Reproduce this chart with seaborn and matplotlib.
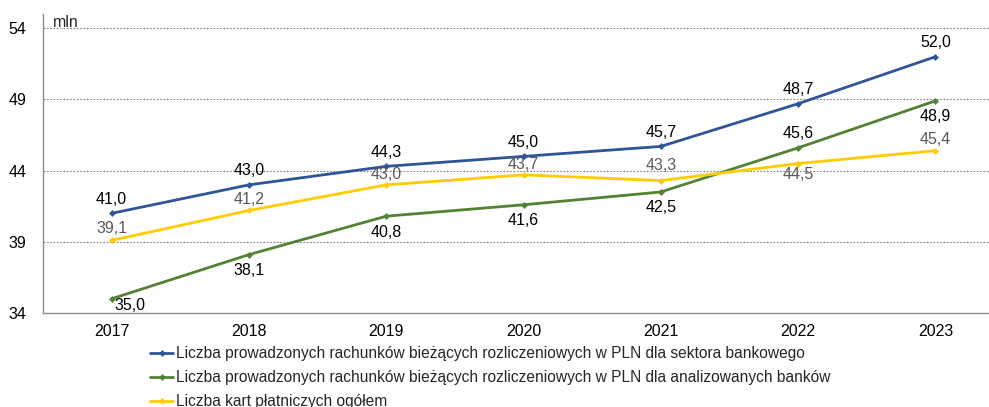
import numpy as np
import pandas as pd
import matplotlib
matplotlib.use("Agg")
import matplotlib.pyplot as plt
import seaborn as sns

# data
years = [2017, 2018, 2019, 2020, 2021, 2022, 2023]
sektor = [41.0, 43.0, 44.3, 45.0, 45.7, 48.7, 52.0]
analiz = [35.0, 38.1, 40.8, 41.6, 42.5, 45.6, 48.9]
karty = [39.1, 41.2, 43.0, 43.7, 43.3, 44.5, 45.4]

names = [
    "Liczba prowadzonych rachunków bieżących rozliczeniowych w PLN dla sektora bankowego",
    "Liczba prowadzonych rachunków bieżących rozliczeniowych w PLN dla analizowanych banków",
    "Liczba kart płatniczych ogółem",
]
colors = ["#2F5597", "#548235", "#FFCC00"]

# label offsets in pixels (dx, dy), dy positive = up
off_sektor = [(0, 14)] * 7
off_analiz = [(18, -7), (0, -16), (0, -16), (0, -16), (0, -16), (0, 14), (0, -16)]
off_karty = [(0, 12), (0, 11), (0, 10), (0, 10), (0, 15), (0, -11), (0, 11)]

sns.set_style("white")
plt.rcParams['font.family'] = ['Liberation Sans', 'DejaVu Sans']

df = pd.DataFrame({
    "x": list(range(len(years))) * 3,
    "val": sektor + analiz + karty,
    "seria": [names[0]] * 7 + [names[1]] * 7 + [names[2]] * 7,
})

fig = plt.figure(figsize=(9.89, 4.07), dpi=100)
ax = fig.add_axes([43 / 989, 1 - 313 / 407, 1 - 43 / 989, (313 - 14) / 407])

sns.lineplot(data=df, x="x", y="val", hue="seria", palette=colors, ax=ax,
             marker="D", markersize=3.5, markeredgewidth=0, linewidth=2,
             legend=False)

ax.set_xlim(-0.5, 6.39)
ax.set_ylim(34, 55)
ax.set_yticks([34, 39, 44, 49, 54])
ax.set_xticks(range(len(years)))
ax.set_xticklabels([str(y) for y in years])
ax.tick_params(axis="both", labelsize=11.5, length=0, colors="#000000")
ax.tick_params(axis="y", pad=12)
ax.tick_params(axis="x", pad=8)
ax.set_xlabel("")
ax.set_ylabel("")
for yv in [39, 44, 49, 54]:
    ax.axhline(yv, color="#808080", linestyle=(0, (1.5, 1.5)), linewidth=0.8, zorder=0)
for s in ["top", "right"]:
    ax.spines[s].set_visible(False)
for s in ["left", "bottom"]:
    ax.spines[s].set_color("#8c8c8c")
    ax.spines[s].set_linewidth(1)

ax.text(0.01, 0.995, "mln", transform=ax.transAxes, fontsize=11.5, va="top", ha="left")

def label_series(vals, offs, color):
    for i, (v, (dx, dy)) in enumerate(zip(vals, offs)):
        txt = f"{v:.1f}".replace(".", ",")
        ax.annotate(txt, (i, v), xytext=(dx * 0.72, dy * 0.72), textcoords="offset points",
                    ha="center", va="center", fontsize=11.5, color=color)

label_series(sektor, off_sektor, "#000000")
label_series(analiz, off_analiz, "#000000")
label_series(karty, off_karty, "#595959")

handles = [plt.Line2D([0], [0], color=c, lw=2, marker="D", markersize=3.5, markeredgewidth=0)
           for c in colors]
fig.legend(handles, names, loc="upper left", bbox_to_anchor=(150 / 989, 1 - 346 / 407),
           frameon=False, fontsize=11.2, handlelength=1.5, handletextpad=0.15,
           labelspacing=0.58, borderaxespad=0, borderpad=0)

fig.savefig("out.png", dpi=100)
